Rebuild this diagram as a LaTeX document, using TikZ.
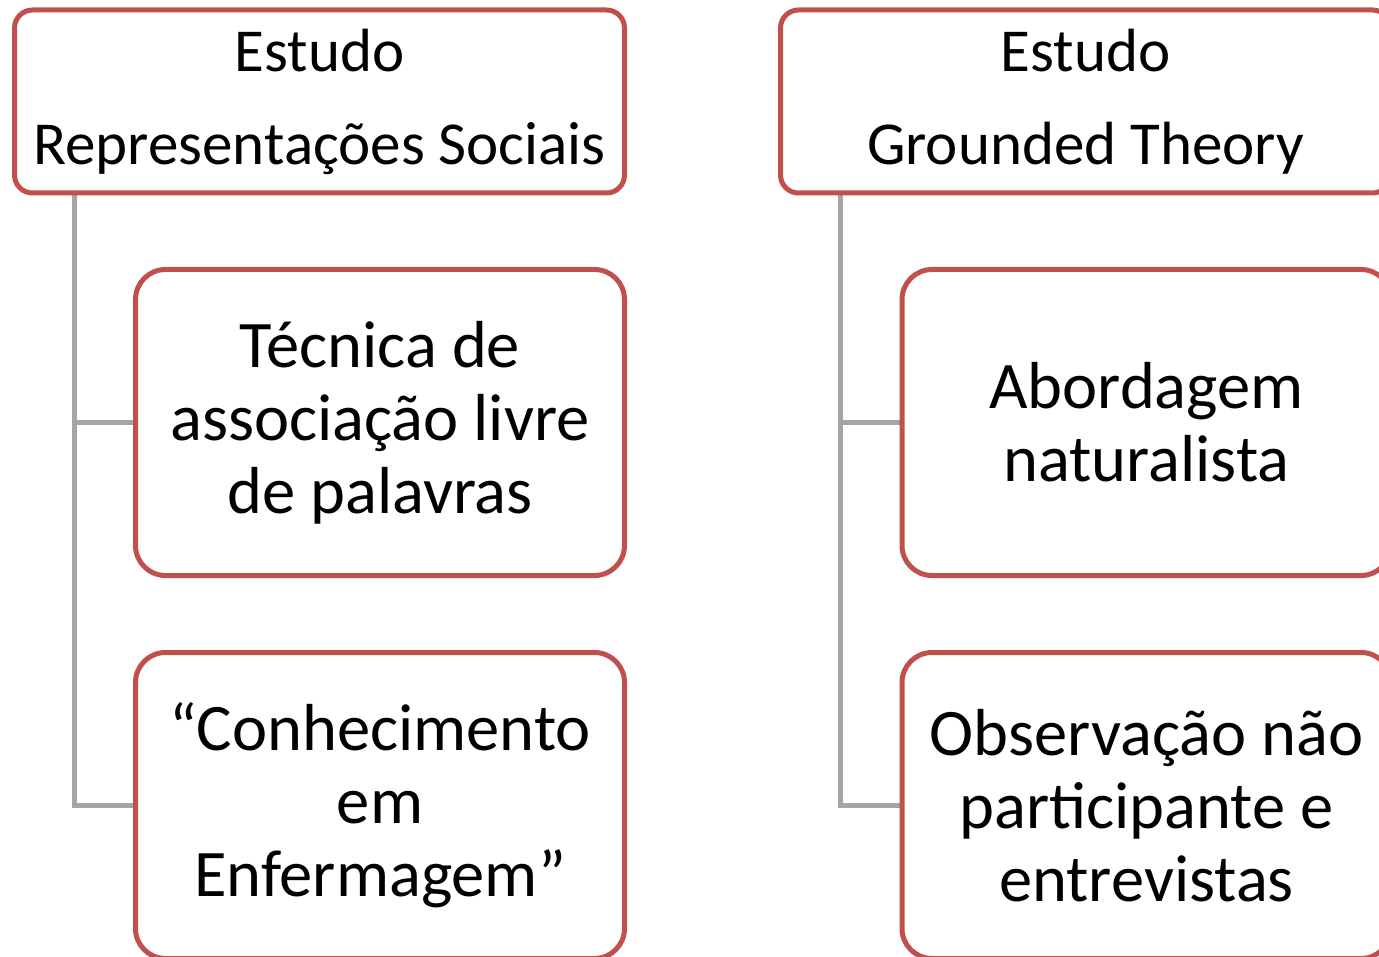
\documentclass[tikz,border=0pt]{standalone}
\usepackage{fontspec}
\setmainfont{Carlito}
\usetikzlibrary{backgrounds}
\definecolor{boxred}{HTML}{C0504D}
\definecolor{linkgray}{HTML}{A5A5A5}

\begin{document}
\begin{tikzpicture}[x=1pt, y=-1pt,
    head/.style = {draw=boxred, line width=5pt, rounded corners=18pt, outer sep=0pt,
        minimum width=610pt, minimum height=183pt, inner sep=0pt, align=center,
        font=\fontsize{61}{93}\selectfont},
    item/.style = {draw=boxred, line width=5pt, rounded corners=30pt, outer sep=0pt,
        minimum width=489pt, minimum height=306pt, inner sep=0pt, align=center,
        font=\fontsize{66.5}{73}\selectfont},
    link/.style = {draw=linkgray, line width=5pt}]
    \useasboundingbox (0,0) rectangle (1379,957);
    \clip (0,0) rectangle (1379,957);

    \node[head] (rs) at (319.5,101.5) {Estudo\\Representações Sociais};
    \node[item] (rs1) at (380,422.5) {Técnica de\\associação livre\\de palavras};
    \node[item] (rs2) at (380,805.5) {“Conhecimento\\em\\Enfermagem”};

    \node[head] (gt) at (1085.5,101.5) {Estudo\\Grounded Theory};
    \node[item] (gt1) at (1146.5,422.5) {Abordagem\\naturalista};
    \node[item] (gt2) at (1146.5,805.5) {Observação não\\participante e\\entrevistas};

    \begin{scope}[on background layer]
        \foreach \h/\a/\b in {rs/rs1/rs2, gt/gt1/gt2} {
            \draw[link] ([xshift=60pt]\h.south west) |- (\a.west);
            \draw[link] ([xshift=60pt]\h.south west) |- (\b.west);
        }
    \end{scope}
\end{tikzpicture}
\end{document}
